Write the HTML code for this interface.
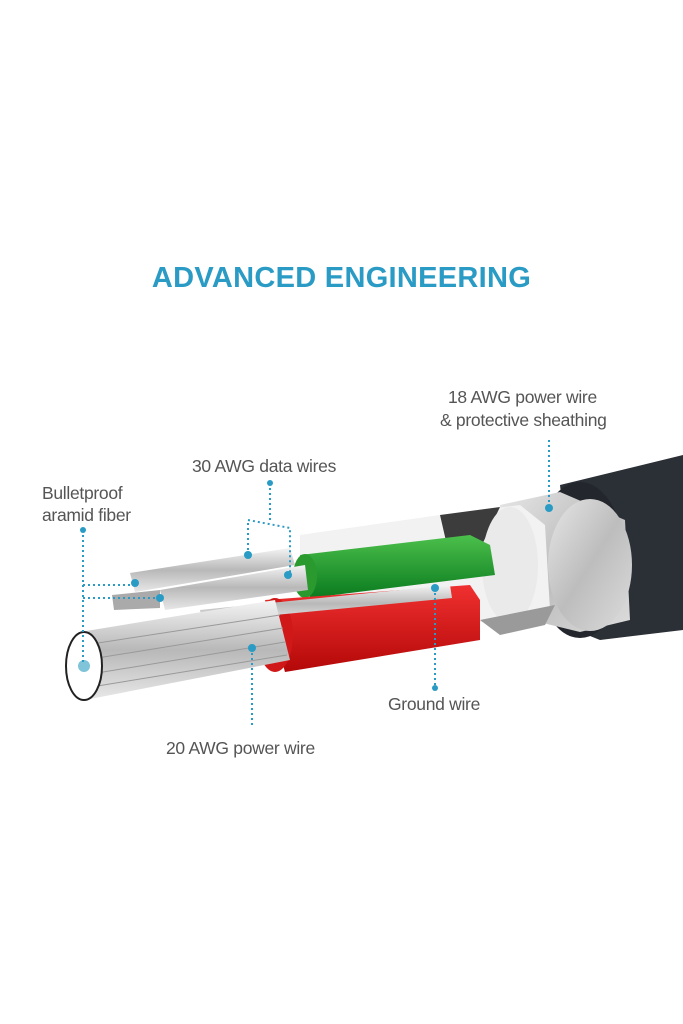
<!DOCTYPE html>
<html><head><style>
html,body{margin:0;padding:0;background:#fff;}
body{width:683px;height:1024px;position:relative;overflow:hidden;font-family:"Liberation Sans",sans-serif;}
.t{position:absolute;color:#555;font-size:17.5px;line-height:22px;letter-spacing:-0.3px;}
</style></head><body>
<div style="position:absolute;left:0;width:683px;top:262px;text-align:center;color:#2a9bc4;font-size:29px;font-weight:bold;letter-spacing:0.3px;">ADVANCED ENGINEERING</div>
<div class="t" style="left:448px;top:386px">18 AWG power wire</div>
<div class="t" style="left:440px;top:409px">&amp; protective sheathing</div>
<div class="t" style="left:192px;top:455px">30 AWG data wires</div>
<div class="t" style="left:42px;top:482px">Bulletproof</div>
<div class="t" style="left:42px;top:504px">aramid fiber</div>
<div class="t" style="left:388px;top:693px">Ground wire</div>
<div class="t" style="left:166px;top:737px">20 AWG power wire</div>
<svg width="683" height="1024" style="position:absolute;left:0;top:0">
<defs>
<linearGradient id="silver" x1="0" y1="0" x2="0" y2="1"><stop offset="0" stop-color="#f4f4f4"/><stop offset=".5" stop-color="#b8b8b8"/><stop offset="1" stop-color="#e8e8e8"/></linearGradient>
<linearGradient id="gr" x1="0" y1="0" x2="0" y2="1"><stop offset="0" stop-color="#4cc04c"/><stop offset="1" stop-color="#0a7a1e"/></linearGradient>
<linearGradient id="rd" x1="0" y1="0" x2="0" y2="1"><stop offset="0" stop-color="#f03030"/><stop offset="1" stop-color="#b40808"/></linearGradient>
<linearGradient id="br" x1="0" y1="0" x2="1" y2="1"><stop offset="0" stop-color="#e6e6e6"/><stop offset=".5" stop-color="#bdbdbd"/><stop offset="1" stop-color="#dcdcdc"/></linearGradient>
</defs>
<polygon points="560,485 683,455 683,630 600,640 575,630" fill="#2b2f36"/>
<ellipse cx="580" cy="560" rx="45" ry="78" fill="#23262c"/>
<polygon points="500,505 560,492 625,520 630,620 580,632 510,615" fill="url(#br)"/>
<ellipse cx="590" cy="565" rx="42" ry="66" fill="url(#br)"/>
<polygon points="300,535 440,515 520,505 545,525 550,610 520,625 480,622 300,620" fill="#f2f2f2"/>
<polygon points="440,515 500,507 470,570 455,580" fill="#1c1c1c" opacity=".85"/>
<ellipse cx="510" cy="565" rx="28" ry="58" fill="#eaeaea"/>
<polygon points="480,620 555,605 545,625 500,635" fill="#9a9a9a"/>
<polygon points="300,555 470,535 490,545 495,575 310,598" fill="url(#gr)"/>
<ellipse cx="305" cy="576" rx="12" ry="22" fill="#2a9a2e"/>
<polygon points="265,600 470,585 480,600 480,640 285,672" fill="url(#rd)"/>
<ellipse cx="275" cy="635" rx="18" ry="37" fill="#d01818"/>
<polygon points="130,573 290,548 295,565 135,592" fill="url(#silver)"/>
<polygon points="160,590 305,565 308,590 165,610" fill="url(#silver)"/>
<polygon points="112,595 160,590 160,608 114,610" fill="#aaa"/>
<polygon points="200,610 450,585 452,598 202,622" fill="url(#silver)"/>
<polygon points="80,632 275,600 290,660 85,700" fill="url(#silver)"/>
<g stroke="#999" stroke-width="1"><line x1="85" y1="645" x2="280" y2="615"/><line x1="85" y1="660" x2="283" y2="628"/><line x1="85" y1="675" x2="285" y2="642"/><line x1="85" y1="688" x2="287" y2="655"/></g>
<ellipse cx="84" cy="666" rx="18" ry="34" fill="#fff" stroke="#222" stroke-width="2"/>
<circle cx="84" cy="666" r="6" fill="#7fc4d8"/>
<g stroke="#2a9bc4" stroke-width="2" stroke-dasharray="2,3" fill="none">
<line x1="549" y1="440" x2="549" y2="508"/>
<line x1="270" y1="483" x2="270" y2="520"/>
<polyline points="248,555 248,520 290,528 290,575"/>
<line x1="83" y1="530" x2="83" y2="665"/>
<line x1="83" y1="585" x2="130" y2="585"/>
<line x1="83" y1="598" x2="160" y2="598"/>
<line x1="435" y1="588" x2="435" y2="688"/>
<line x1="252" y1="648" x2="252" y2="725"/>
</g>
<g fill="#2a9bc4"><circle cx="549" cy="508" r="4"/><circle cx="270" cy="483" r="3"/><circle cx="248" cy="555" r="4"/><circle cx="288" cy="575" r="4"/><circle cx="83" cy="530" r="3"/><circle cx="135" cy="583" r="4"/><circle cx="160" cy="598" r="4"/><circle cx="435" cy="588" r="4"/><circle cx="435" cy="688" r="3"/><circle cx="252" cy="648" r="4"/></g>
</svg>
</body></html>
